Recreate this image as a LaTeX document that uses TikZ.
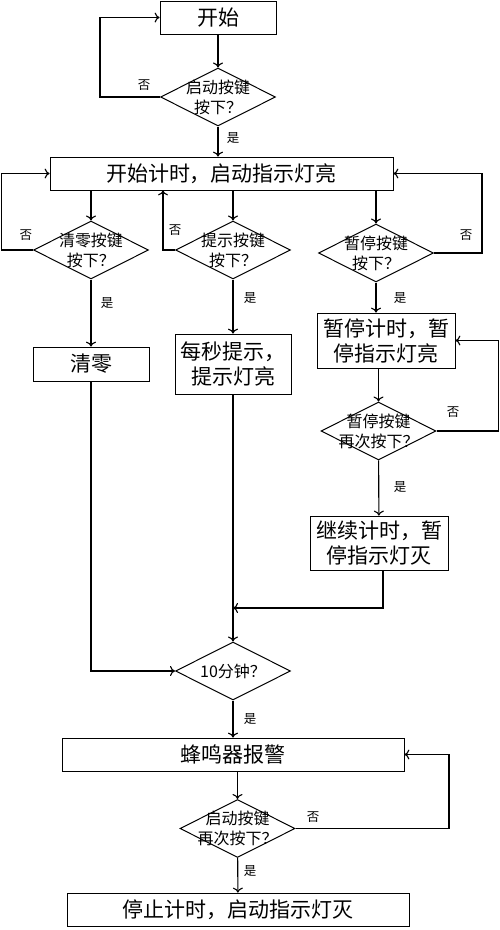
\documentclass[tikz,border=0pt]{standalone}
\usepackage{fontspec}
\setmainfont{Noto Sans CJK SC}
\usetikzlibrary{shapes.geometric,arrows.meta}

\begin{document}
\begin{tikzpicture}[%
      x=1pt, y=-1pt,
      line width=1.1pt,
      >={To[length=5pt,width=10pt]},
      box/.style={draw, line width=0.8pt, rectangle, inner sep=0pt, align=center,
        font=\fontsize{21}{25}\selectfont},
      decide/.style={draw, line width=1pt, diamond, aspect=2, inner sep=-7pt, align=center,
        minimum width=115pt, minimum height=58pt,
        font=\fontsize{16}{20}\selectfont},
      lbl/.style={inner sep=0pt, font=\fontsize{12.5}{14}\selectfont},
      ]
      \useasboundingbox (0,0) rectangle (500,930);

      \node [box, minimum width=116pt, minimum height=33pt] (start) at (218,17.5) {开始};
      \node [decide] (dstart) at (218,97) {启动按键\\按下？};
      \node [box, minimum width=343pt, minimum height=33pt] (timer) at (221.5,173.5) {开始计时，启动指示灯亮};

      \node [decide] (dclear) at (91,250) {清零按键\\按下？};
      \node [decide] (dtip) at (233,250) {提示按键\\按下？};
      \node [decide] (dpause) at (376,253) {暂停按键\\按下？};

      \node [box, minimum width=116pt, minimum height=34pt] (clear) at (91,364) {清零};
      \node [box, minimum width=116pt, minimum height=60pt] (tip) at (233,364) {每秒提示，\\提示灯亮};
      \node [box, minimum width=138pt, minimum height=55pt] (pause) at (386,340.5) {暂停计时，暂\\停指示灯亮};
      \node [decide] (dagain) at (378.5,431) {暂停按键\\再次按下？};
      \node [box, minimum width=138pt, minimum height=54pt] (resume) at (379,543) {继续计时，暂\\停指示灯灭};

      \node [decide] (dten) at (233,671) {10分钟？};
      \node [box, minimum width=342pt, minimum height=33pt] (alarm) at (233,754.5) {蜂鸣器报警};
      \node [decide] (dstop) at (237.5,828.5) {启动按键\\再次按下？};
      \node [box, minimum width=342pt, minimum height=33pt] (stop) at (238,909.5) {停止计时，启动指示灯灭};

      \coordinate (startturn) at (100,17.5);
      \coordinate (clearturn) at (1.5,173.5);
      \coordinate (pauseturn) at (482,173.5);
      \coordinate (againturn) at (498.5,340.5);
      \coordinate (stopturn) at (449,754.5);
      \coordinate (merge) at (233,608);

      \draw [->] (start) -- (dstart);
      \draw [->] (dstart) -- (dstart.south |- timer.north);
      \draw [->] (dstart.west) -| (startturn) -- (start.west);

      \draw [->] (dclear.north |- timer.south) -- (dclear.north);
      \draw [->] (dtip.north |- timer.south) -- (dtip.north);
      \draw [->] (dpause.north |- timer.south) -- (dpause.north);
      \draw [->] (dclear.west) -| (clearturn) -- (timer.west);
      \draw [->] (dtip.west) -- ++(-12,0) coordinate (tipup) -- (tipup |- timer.south);
      \draw [->] (dpause.east) -| (pauseturn) -- (timer.east);

      \draw [->] (dclear) -- (clear);
      \draw [->] (dtip) -- (tip);
      \draw [->] (dpause.south) -- (dpause.south |- pause.north);
      \draw [->] (dagain.north |- pause.south) -- (dagain.north);
      \draw [->] (dagain.east) -| (againturn) -- (pause.east);
      \draw [->] (dagain) -- (resume);

      \draw [->] (resume.south -| 383,0) |- (merge);
      \draw [->] (tip) -- (dten);
      \draw [->] (clear.south) |- (dten.west);
      \draw [->] (dten) -- (alarm);
      \draw [->] (dstop.north |- alarm.south) -- (dstop.north);
      \draw [->] (dstop.east) -| (stopturn) -- (alarm.east);
      \draw [->] (dstop) -- (stop);

      \node [lbl] (no1) at (144,85) {否};
      \node [lbl] (yes1) at (233,138) {是};
      \node [lbl] (no2) at (26,235) {否};
      \node [lbl] (no3) at (175,230) {否};
      \node [lbl] (no4) at (466,235) {否};
      \node [lbl] (yes2) at (107,303) {是};
      \node [lbl] (yes3) at (250,298) {是};
      \node [lbl] (yes4) at (400,298) {是};
      \node [lbl] (no5) at (453,412) {否};
      \node [lbl] (yes5) at (400,487) {是};
      \node [lbl] (yes6) at (250,719) {是};
      \node [lbl] (no6) at (313,817) {否};
      \node [lbl] (yes7) at (250,871) {是};
\end{tikzpicture}
\end{document}
